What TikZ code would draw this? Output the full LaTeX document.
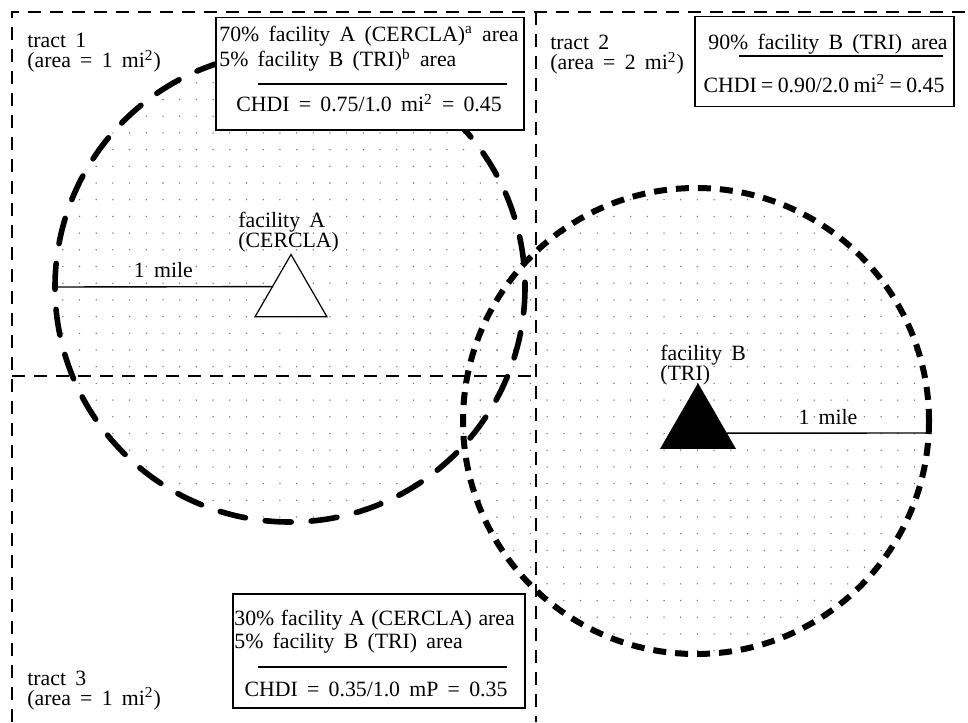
\documentclass[tikz,border=0pt]{standalone}
\usepackage{fontspec}
\setmainfont{Liberation Serif}[WordSpace=1.7]
\usetikzlibrary{shapes.geometric, calc}

\begin{document}
\begin{tikzpicture}[x=0.5pt, y=-0.5pt, font=\fontsize{10.9pt}{10pt}\selectfont,
tractline/.style={line width=1.4pt, dash pattern=on 6.5pt off 4.5pt},
radiusA/.style={line width=2.8pt, line cap=round, dash pattern=on 13pt off 10pt},
radiusB/.style={line width=3pt, dash pattern=on 6.5pt off 4.5pt},
infobox/.style={draw, fill=white, line width=0.75pt, inner sep=0pt, anchor=north west},
txt/.style={inner sep=0pt, align=left},
rule/.style={line width=0.6pt},
mileline/.style={line width=0.7pt},
facility/.style={regular polygon, regular polygon sides=3, draw, line width=0.6pt, inner sep=0pt}
]
    \useasboundingbox (0,0) rectangle (968,722);

    % centres of the 1 mile areas
    \coordinate (cenA) at (290,287);
    \coordinate (cenB) at (696,421);
    \coordinate (edgeA) at (55,287);
    \coordinate (edgeB) at (929,433);

    % dotted areas
    \begin{scope}
        \clip (cenA) circle[radius=235];
        \foreach \i in {3,...,31}
            \foreach \j in {3,...,31}
                \fill[black!55] ({12.7+16.7*\i},{16+16.7*\j}) circle[radius=0.38pt];
    \end{scope}
    \begin{scope}
        \clip (cenB) circle[radius=233];
        \foreach \i in {27,...,56}
            \foreach \j in {11,...,39}
                \fill[black!55] ({12.7+16.7*\i},{16+16.7*\j}) circle[radius=0.38pt];
    \end{scope}

    % tract boundaries
    \draw[tractline] (12,722) -- (12,12) -- (968,12);
    \draw[tractline] (536,12) -- (536,722);
    \draw[tractline] (12,376) -- (536,376);

    % 1 mile circles
    \draw[radiusA] (cenA) circle[radius=235];
    \draw[radiusB] (cenB) circle[radius=233];

    % facilities
    \node[facility, fill=white, minimum size=41.5pt] (triA) at (291,296) {};
    \node[facility, fill=black, minimum size=42.7pt] (triB) at (698,427) {};
    \draw[mileline] (edgeA) -- node[above, inner sep=4.3pt] (mileA) {1 mile}
        ($(triA.corner 1)!0.52!(triA.corner 2)$);
    \draw[mileline] ($(triB.corner 1)!0.76!(triB.corner 3)$) -- node[above, inner sep=4pt] (mileB) {1 mile}
        (edgeB);

    \node[txt, anchor=base west] (labA) at (238,247) {facility A\\(CERCLA)};
    \node[txt, anchor=base west] (labB) at (660,380) {facility B\\(TRI)};

    % tract labels
    \node[txt, anchor=base west] (tract1) at (27,68) {tract 1\\(area = 1 mi\textsuperscript{2})};
    \node[txt, anchor=base west] (tract2) at (550,70) {tract 2\\(area = 2 mi\textsuperscript{2})};
    \node[txt, anchor=base west] (tract3) at (27,705) {tract 3\\(area = 1 mi\textsuperscript{2})};

    % CHDI boxes
    \node[infobox, minimum width=154pt, minimum height=56pt] (boxT1) at (215,17) {};
    \node[txt, anchor=base west] (shareT1) at (219,67)
        {70\% facility A (CERCLA)\textsuperscript{a} area\\5\% facility B (TRI)\textsuperscript{b} area};
    \draw[rule] (258,84) -- (507,84);
    \node[txt, anchor=base] (chdiT1) at (369,112) {CHDI = 0.75/1.0 mi\textsuperscript{2} = 0.45};

    \node[infobox, minimum width=129.5pt, minimum height=45pt] (boxT2) at (694,16) {};
    \node[txt, anchor=base east] (shareT2) at (948,50) {90\% facility B (TRI) area};
    \draw[rule] (739,56) -- (943,56);
    \node[txt, anchor=base] (chdiT2) at (824,92)
        {\spaceskip=0.2em CHDI = 0.90/2.0 mi\textsuperscript{2} = 0.45};

    \node[infobox, minimum width=146pt, minimum height=57pt] (boxT3) at (232,593) {};
    \node[txt, anchor=base west] (shareT3) at (234,648)
        {\spaceskip=0.3em 30\% facility A (CERCLA) area\\5\% facility B (TRI) area};
    \draw[rule] (258,667) -- (507,667);
    \node[txt, anchor=base] (chdiT3) at (376,696) {CHDI = 0.35/1.0 mP = 0.35};
\end{tikzpicture}
\end{document}
